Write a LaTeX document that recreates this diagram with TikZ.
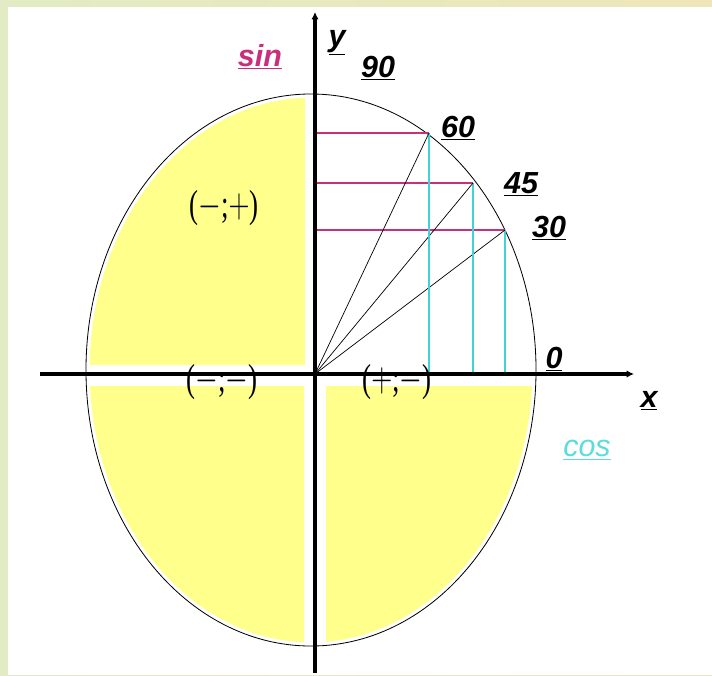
\documentclass[tikz,border=0pt]{standalone}
\usepackage{fontspec}
\setmainfont{Liberation Serif}
\setsansfont{Liberation Sans}
\usetikzlibrary{arrows.meta}
\tikzset{
  axis/.style={line width=3pt, -{Latex[length=2.2mm,width=2.2mm]}},
  lbl/.style={font=\sffamily\bfseries\itshape\fontsize{26}{28}\selectfont, inner sep=0pt},
  sgn/.style={font=\fontsize{23}{25}\selectfont, inner sep=0pt},
  proj/.style={line width=1pt},
}
\newcommand{\tallsign}[1]{\scalebox{1}[1.45]{#1}}
\definecolor{frameL}{HTML}{E2EBC4}
\definecolor{frameR}{HTML}{EEE6B8}
\definecolor{quad}{HTML}{FFFF8C}
\definecolor{sinc}{HTML}{C8307C}
\definecolor{cosc}{HTML}{40D2D4}
\definecolor{cost}{HTML}{5CDCDE}

\begin{document}
\begin{tikzpicture}[x=0.03cm, y=-0.03cm]
  \useasboundingbox (0,0) rectangle (712,675);
  \fill[left color=frameL, right color=frameR] (0,0) rectangle (712,675);
  \fill[white] (8,7) rectangle (712,675);

  % yellow quadrants
  \foreach \xa/\ya/\xb/\yb in {60/60/305/364, 60/386/304/660, 326/386/560/660}{
    \begin{scope}
      \clip (\xa,\ya) rectangle (\xb,\yb);
      \fill[quad] (311,370) ellipse [x radius=6.64cm, y radius=8.17cm];
    \end{scope}}
  \draw[line width=0.7pt] (311,370) ellipse [x radius=6.75cm, y radius=8.28cm];

  \coordinate (O) at (315,374);
  \coordinate (p30) at (505,230);
  \coordinate (p45) at (473,183);
  \coordinate (p60) at (429,133);
  \foreach \p in {30,45,60}{
    \draw[sinc, proj] (O |- p\p) -- (p\p);
    \draw[cosc, proj] (p\p) -- (p\p |- O);
    \draw[line width=0.6pt] (O) -- (p\p);
  }

  % axes
  \coordinate (xl) at (40,374);
  \coordinate (xr) at (634,374);
  \coordinate (yb) at (315,673);
  \coordinate (yt) at (315,12);
  \draw[axis] (xl) -- (xr);
  \draw[axis] (yb) -- (yt);

  \node[lbl, text=sinc] (sin) at (260,57) {\underline{sin}};
  \node[lbl] (ylab) at (337,43) {\underline{y}};
  \node[lbl] (a90) at (378,68) {\underline{90}};
  \node[lbl] (a60) at (458,128) {\underline{60}};
  \node[lbl] (a45) at (521,184) {\underline{45}};
  \node[lbl] (a30) at (549,228) {\underline{30}};
  \node[lbl] (a0) at (554,359) {\underline{0}};
  \node[lbl] (xlab) at (649,401) {\underline{x}};
  \node[lbl, text=cost, font=\sffamily\itshape\fontsize{26}{28}\selectfont] (cos) at (587,450) {\underline{cos}};

  \node[sgn] (q2) at (224,208) {\tallsign{($-$;$+$)}};
  \node[sgn] (q3) at (222,382) {\tallsign{($-$;$-$)}};
  \node[sgn] (q4) at (397,382) {\tallsign{($+$;$-$)}};
\end{tikzpicture}
\end{document}
